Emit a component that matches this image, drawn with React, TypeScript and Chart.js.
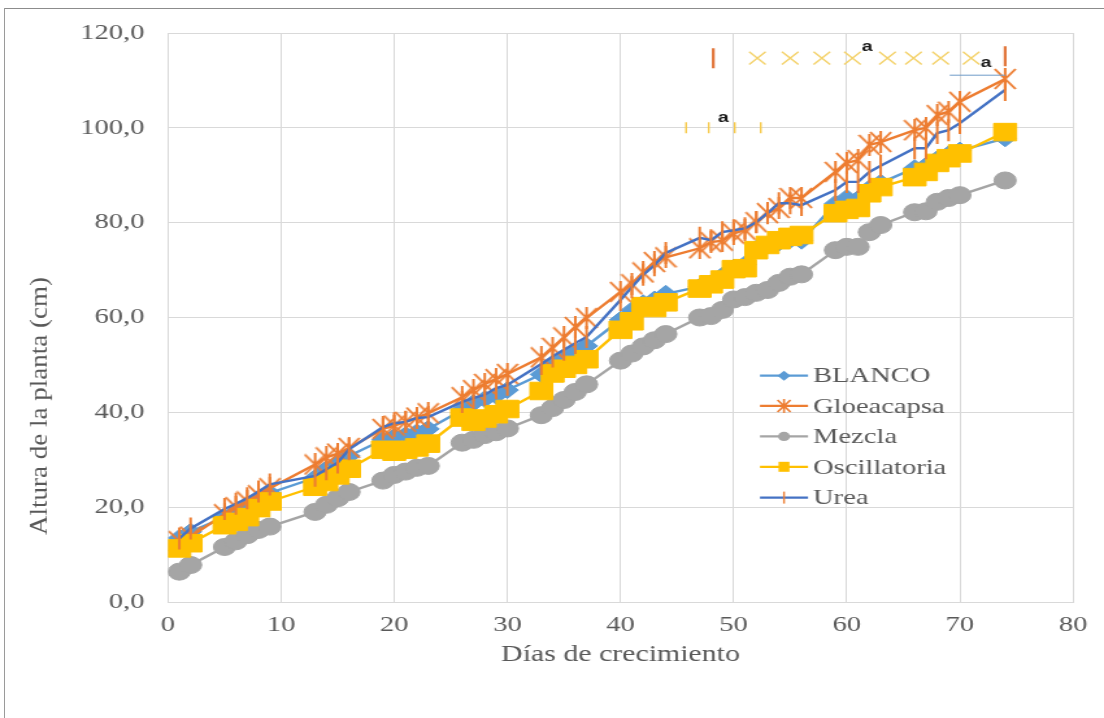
import React, { useEffect, useRef } from 'react';
import { Chart, registerables } from 'chart.js';

Chart.register(...registerables);

// ---------------- data ----------------
const DAYS = [1, 2, 5, 6, 7, 8, 9, 13, 14, 15, 16, 19, 20, 21, 22, 23, 26, 27, 28, 29, 30, 33, 34, 35, 36, 37, 40, 41, 42, 43, 44, 47, 48, 49, 50, 51, 52, 53, 54, 55, 56, 59, 60, 61, 62, 63, 66, 67, 68, 69, 70, 74];

const BLANCO = [13.5, 14.8, 17.9, 19.0, 20.0, 21.5, 23.0, 26.2, 28.0, 29.3, 30.8, 34.2, 34.8, 35.2, 35.8, 36.5, 40.5, 42.0, 42.8, 43.5, 44.7, 48.0, 50.2, 51.5, 53.0, 54.0, 59.5, 61.5, 63.0, 63.8, 65.0, 66.5, 67.2, 68.8, 70.5, 71.2, 74.5, 75.2, 75.8, 76.4, 76.2, 84.0, 85.2, 85.0, 87.2, 88.4, 91.5, 92.0, 93.4, 94.4, 95.2, 97.8];

const GLOEACAPSA = [12.8, 13.8, 18.5, 20.0, 21.2, 22.5, 24.0, 29.0, 30.5, 31.3, 32.5, 36.5, 37.2, 38.0, 38.9, 39.8, 43.2, 44.7, 46.0, 47.0, 48.1, 51.6, 53.6, 55.8, 58.0, 59.9, 65.4, 67.0, 69.5, 71.7, 72.7, 74.6, 75.9, 76.2, 77.7, 78.5, 80.1, 82.0, 83.1, 85.2, 85.2, 90.7, 92.6, 93.2, 96.4, 97.0, 99.5, 100.0, 102.7, 103.4, 105.5, 110.3];

const MEZCLA = [6.4, 7.8, 11.6, 12.8, 14.1, 15.2, 15.9, 19.0, 20.5, 21.9, 23.2, 25.6, 26.8, 27.5, 28.3, 28.7, 33.6, 34.2, 35.2, 35.8, 36.6, 39.4, 40.9, 42.6, 44.3, 45.9, 50.9, 52.4, 53.9, 55.2, 56.5, 60.0, 60.3, 61.6, 63.8, 64.3, 65.2, 65.8, 67.3, 68.6, 69.1, 74.2, 74.9, 74.9, 78.0, 79.5, 82.2, 82.4, 84.4, 85.2, 85.8, 88.9];

const OSCILLATORIA = [11.3, 12.4, 16.2, 16.9, 17.9, 19.8, 21.2, 24.3, 25.3, 26.7, 28.1, 32.1, 31.7, 32.1, 32.6, 33.4, 38.9, 38.0, 38.7, 39.6, 40.7, 44.5, 48.2, 49.2, 50.0, 51.2, 57.4, 59.2, 62.4, 62.0, 63.2, 66.1, 67.0, 68.0, 70.2, 70.4, 74.2, 75.3, 76.3, 77.0, 77.4, 82.0, 82.7, 83.1, 86.2, 87.5, 89.6, 90.7, 92.6, 93.6, 94.6, 99.1];

const UREA = [13.4, 15.5, 19.6, 20.7, 21.9, 23.3, 24.8, 26.6, 28.0, 29.4, 32.2, 36.9, 37.7, 38.0, 38.8, 39.0, 42.2, 43.0, 43.7, 45.1, 45.8, 50.2, 51.8, 53.2, 54.6, 55.9, 63.7, 66.4, 69.0, 71.0, 73.6, 76.8, 76.3, 78.0, 78.4, 78.8, 80.1, 82.0, 84.1, 84.1, 83.7, 86.9, 88.6, 88.6, 90.7, 92.0, 95.7, 95.7, 98.9, 99.5, 101.0, 108.0];

const SERIES_NAMES = ['BLANCO', 'Gloeacapsa', 'Mezcla', 'Oscillatoria', 'Urea'];

const X_TICKS = [0, 10, 20, 30, 40, 50, 60, 70, 80];
const Y_TICKS = [0, 20, 40, 60, 80, 100, 120];

// stray marks in the top part of the plot
const TOP_CROSS_DAYS = [52.1, 55.0, 57.8, 60.5, 63.6, 65.9, 68.3, 71.0];
const TOP_CROSS_VALUES = [114.7, 114.7, 114.7, 114.7, 114.7, 114.7, 114.7, 114.7];
const TOP_BAR_DAYS = [48.2, 74.0];
const TOP_BAR_VALUES = [114.7, 115.1];
const MID_TICK_DAYS = [45.8, 47.8, 50.1, 52.4];
const MID_TICK_VALUES = [100, 100, 100, 100];
const THIN_LINE_DAYS = [69.1, 74.0];
const THIN_LINE_VALUES = [111.1, 111.1];
const LETTER_DAYS = [61.8, 49.1, 72.3];
const LETTER_VALUES = [117.0, 102.1, 113.7];
const LETTER_TEXT = ['a', 'a', 'a'];

// ---------------- geometry (page is stretched horizontally) ----------------
const PAGE_W = 1104;
const PAGE_H = 718;
const CW = 850;
const S = PAGE_W / CW;

const TEXT = '#595959';
const SERIF = '"Liberation Serif", "Times New Roman", serif';

const pts = (xs: number[], ys: number[]) => xs.map((x, i) => ({ x, y: ys[i] }));

function makeStar(w: number, h: number, color: string, lw: number) {
  const c = document.createElement('canvas');
  c.width = w;
  c.height = h;
  const g = c.getContext('2d')!;
  g.strokeStyle = color;
  g.lineWidth = lw;
  g.beginPath();
  g.moveTo(1, 1);
  g.lineTo(w - 1, h - 1);
  g.moveTo(w - 1, 1);
  g.lineTo(1, h - 1);
  g.moveTo(w / 2, 0);
  g.lineTo(w / 2, h);
  g.stroke();
  return c;
}

const LEGEND_STYLE = [
  { line: '#5B9BD5', marker: 'diamond', color: '#5B9BD5' },
  { line: '#ED7D31', marker: 'star', color: '#ED7D31' },
  { line: '#A5A5A5', marker: 'circle', color: '#A5A5A5' },
  { line: '#FFC000', marker: 'square', color: '#FFC000' },
  { line: '#4472C4', marker: 'tick', color: '#ED7D31' },
];

const overlayPlugin = {
  id: 'overlay',
  beforeDraw(chart: any) {
    const ctx = chart.ctx;
    ctx.save();
    ctx.fillStyle = '#ffffff';
    ctx.fillRect(0, 0, chart.width, chart.height);
    ctx.restore();
  },
  afterDatasetsDraw(chart: any) {
    const ctx = chart.ctx;
    const xs = chart.scales.x;
    const ys = chart.scales.y;
    ctx.save();
    ctx.font = 'bold 15px "Liberation Sans", Arial, sans-serif';
    ctx.fillStyle = '#1a1a1a';
    ctx.textAlign = 'center';
    ctx.textBaseline = 'middle';
    LETTER_TEXT.forEach((t, i) => {
      ctx.fillText(t, xs.getPixelForValue(LETTER_DAYS[i]), ys.getPixelForValue(LETTER_VALUES[i]));
    });
    ctx.restore();
  },
  afterDraw(chart: any) {
    const ctx = chart.ctx;
    // legend
    const x0 = 760 / S;
    const x1 = 808 / S;
    const xm = (x0 + x1) / 2;
    const tx = 813 / S;
    const rows = [375.7, 405.9, 436.4, 466.8, 497.6];
    ctx.save();
    SERIES_NAMES.forEach((name, i) => {
      const st = LEGEND_STYLE[i];
      const y = rows[i];
      ctx.strokeStyle = st.line;
      ctx.lineWidth = 2.2;
      ctx.beginPath();
      ctx.moveTo(x0, y);
      ctx.lineTo(x1, y);
      ctx.stroke();
      ctx.fillStyle = st.color;
      ctx.strokeStyle = st.color;
      if (st.marker === 'diamond') {
        ctx.beginPath();
        ctx.moveTo(xm - 5, y);
        ctx.lineTo(xm, y - 5);
        ctx.lineTo(xm + 5, y);
        ctx.lineTo(xm, y + 5);
        ctx.closePath();
        ctx.fill();
      } else if (st.marker === 'star') {
        ctx.lineWidth = 1.6;
        ctx.beginPath();
        ctx.moveTo(xm - 5, y - 6);
        ctx.lineTo(xm + 5, y + 6);
        ctx.moveTo(xm + 5, y - 6);
        ctx.lineTo(xm - 5, y + 6);
        ctx.moveTo(xm, y - 7);
        ctx.lineTo(xm, y + 7);
        ctx.stroke();
      } else if (st.marker === 'circle') {
        ctx.beginPath();
        ctx.arc(xm, y, 4.6, 0, Math.PI * 2);
        ctx.fill();
      } else if (st.marker === 'square') {
        ctx.fillRect(xm - 4.2, y - 5, 8.4, 10);
      } else {
        ctx.lineWidth = 1.4;
        ctx.beginPath();
        ctx.moveTo(xm, y - 6);
        ctx.lineTo(xm, y + 6);
        ctx.stroke();
      }
      ctx.fillStyle = TEXT;
      ctx.font = `22px ${SERIF}`;
      ctx.textAlign = 'left';
      ctx.textBaseline = 'middle';
      ctx.fillText(name, tx, y + 1);
    });
    ctx.restore();

    // y axis title (kept narrow, not stretched)
    ctx.save();
    ctx.translate(40 / S, 406);
    ctx.scale(0.9 / S, 1);
    ctx.rotate(-Math.PI / 2);
    ctx.font = `27px ${SERIF}`;
    ctx.fillStyle = TEXT;
    ctx.textAlign = 'center';
    ctx.textBaseline = 'middle';
    ctx.fillText('Altura de la planta (cm)', 0, 0);
    ctx.restore();
  },
};

export default function App() {
  const ref = useRef<HTMLCanvasElement>(null);

  useEffect(() => {
    if (!ref.current) return;
    const star = makeStar(18, 22, '#ED7D31', 2);

    const chart = new Chart(ref.current, {
      type: 'line',
      data: {
        datasets: [
          {
            label: SERIES_NAMES[0],
            data: pts(DAYS, BLANCO),
            borderColor: '#5B9BD5',
            backgroundColor: '#5B9BD5',
            borderWidth: 2.4,
            pointStyle: 'rectRot',
            pointRadius: 8.5,
            pointBorderWidth: 1,
            pointBackgroundColor: '#5B9BD5',
            pointBorderColor: '#5B9BD5',
            order: 5,
          },
          {
            label: SERIES_NAMES[1],
            data: pts(DAYS, GLOEACAPSA),
            borderColor: '#ED7D31',
            backgroundColor: '#ED7D31',
            borderWidth: 2.4,
            pointStyle: star as any,
            pointRadius: 10,
            order: 4,
          },
          {
            label: SERIES_NAMES[2],
            data: pts(DAYS, MEZCLA),
            borderColor: '#A5A5A5',
            backgroundColor: '#A5A5A5',
            borderWidth: 2.4,
            pointStyle: 'circle',
            pointRadius: 8.5,
            pointBorderWidth: 1,
            pointBackgroundColor: '#A5A5A5',
            pointBorderColor: '#A5A5A5',
            order: 3,
          },
          {
            label: SERIES_NAMES[3],
            data: pts(DAYS, OSCILLATORIA),
            borderColor: '#FFC000',
            backgroundColor: '#FFC000',
            borderWidth: 2.4,
            pointStyle: 'rect',
            pointRadius: 12.4,
            pointBorderWidth: 1,
            pointBackgroundColor: '#FFC000',
            pointBorderColor: '#FFC000',
            order: 2,
          },
          {
            label: SERIES_NAMES[4],
            data: pts(DAYS, UREA),
            borderColor: '#4472C4',
            backgroundColor: '#4472C4',
            borderWidth: 2.4,
            pointStyle: 'line',
            pointRotation: 90,
            pointRadius: 11,
            pointBorderWidth: 2,
            pointBorderColor: '#ED7D31',
            order: 1,
          },
          {
            label: 'marks-x',
            data: pts(TOP_CROSS_DAYS, TOP_CROSS_VALUES),
            showLine: false,
            pointStyle: 'crossRot',
            pointRadius: 9,
            pointBorderWidth: 1.4,
            pointBorderColor: '#F4D26A',
            order: 0,
          },
          {
            label: 'marks-bar',
            data: pts(TOP_BAR_DAYS, TOP_BAR_VALUES),
            showLine: false,
            pointStyle: 'line',
            pointRotation: 90,
            pointRadius: 10,
            pointBorderWidth: 2.2,
            pointBorderColor: '#E2763A',
            order: 0,
          },
          {
            label: 'marks-tick',
            data: pts(MID_TICK_DAYS, MID_TICK_VALUES),
            showLine: false,
            pointStyle: 'line',
            pointRotation: 90,
            pointRadius: 5.5,
            pointBorderWidth: 1.4,
            pointBorderColor: '#F7C948',
            order: 0,
          },
          {
            label: 'marks-line',
            data: pts(THIN_LINE_DAYS, THIN_LINE_VALUES),
            borderColor: '#6F9CC9',
            borderWidth: 1,
            pointRadius: 0,
            order: 0,
          },
        ] as any,
      },
      options: {
        responsive: false,
        animation: false,
        events: [],
        layout: { padding: { top: 33, right: CW - 1073 / S, bottom: 0, left: 0 } },
        plugins: { legend: { display: false }, tooltip: { enabled: false } },
        elements: { line: { tension: 0 } },
        scales: {
          x: {
            type: 'linear',
            min: 0,
            max: 80,
            afterFit: (s: any) => {
              s.height = PAGE_H - 602;
            },
            afterBuildTicks: (s: any) => {
              s.ticks = X_TICKS.map((v) => ({ value: v }));
            },
            ticks: {
              font: { family: SERIF, size: 22 },
              color: TEXT,
              padding: 10,
              maxRotation: 0,
              autoSkip: false,
            },
            grid: { color: '#d9d9d9', lineWidth: 1, drawTicks: false },
            border: { color: '#d9d9d9' },
            title: {
              display: true,
              text: 'Días de crecimiento',
              font: { family: SERIF, size: 23 },
              color: TEXT,
              padding: { top: 0, bottom: 49 },
            },
          },
          y: {
            type: 'linear',
            min: 0,
            max: 120,
            afterFit: (s: any) => {
              s.width = 168 / S;
            },
            afterBuildTicks: (s: any) => {
              s.ticks = Y_TICKS.map((v) => ({ value: v }));
            },
            ticks: {
              font: { family: SERIF, size: 22 },
              color: TEXT,
              padding: 18,
              callback: (v: any) => Number(v).toFixed(1).replace('.', ','),
            },
            grid: { color: '#d9d9d9', lineWidth: 1, drawTicks: false },
            border: { display: false },
          },
        },
      } as any,
      plugins: [overlayPlugin],
    });
    return () => chart.destroy();
  }, []);

  return (
    <div
      style={{
        position: 'fixed',
        left: 0,
        top: 0,
        width: PAGE_W,
        height: PAGE_H,
        overflow: 'hidden',
        background: '#ffffff',
      }}
    >
      <canvas
        ref={ref}
        width={CW}
        height={PAGE_H}
        style={{
          position: 'absolute',
          left: 0,
          top: 0,
          width: CW,
          height: PAGE_H,
          transform: `scaleX(${S})`,
          transformOrigin: '0 0',
        }}
      />
      <div style={{ position: 'absolute', left: 4, top: 8, right: 0, height: 1, background: '#8c8c8c' }} />
      <div style={{ position: 'absolute', left: 4, top: 8, bottom: 0, width: 1, background: '#9a9a9a' }} />
    </div>
  );
}
